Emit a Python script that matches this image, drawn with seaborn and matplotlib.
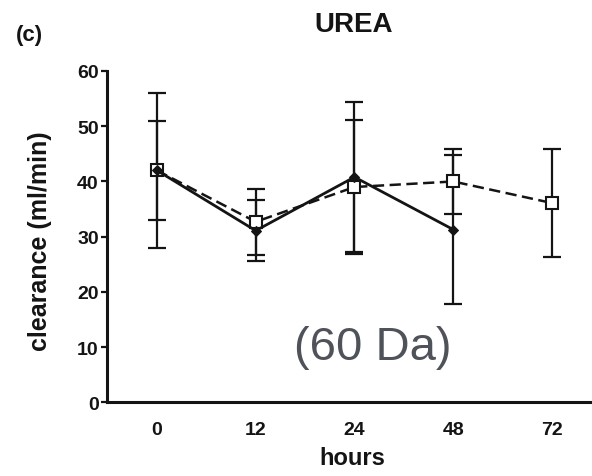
import matplotlib
matplotlib.use("Agg")
import matplotlib.pyplot as plt
import seaborn as sns
import pandas as pd

# Urea clearance over time (mean and SD) for two treatment groups
hour_labels = ["0", "12", "24", "48", "72"]

solid_mean = [42.0, 31.1, 40.8, 31.3]
solid_sd = [14.0, 5.5, 13.5, 13.5]

dashed_mean = [42.0, 32.7, 39.0, 40.0, 36.1]
dashed_sd = [9.0, 6.0, 12.2, 5.8, 9.8]

ink = "#141414"

sns.set_theme(style="ticks")
plt.rcParams["font.family"] = ["Liberation Sans", "DejaVu Sans"]
plt.rcParams["font.weight"] = "bold"

fig = plt.figure(figsize=(5.92, 4.77), dpi=100)
ax = fig.add_axes([0.1807, 0.1541, 0.8193, 0.6950])

solid_df = pd.DataFrame({"pos": range(len(solid_mean)), "clearance": solid_mean})
dashed_df = pd.DataFrame({"pos": range(len(dashed_mean)), "clearance": dashed_mean})

# error bars first so the lines and markers sit on top
ax.errorbar(solid_df["pos"], solid_df["clearance"], yerr=solid_sd, fmt="none",
            ecolor=ink, elinewidth=1.6, capsize=6.8, capthick=1.6, zorder=2)
ax.errorbar(dashed_df["pos"], dashed_df["clearance"], yerr=dashed_sd, fmt="none",
            ecolor=ink, elinewidth=1.6, capsize=6.8, capthick=1.6, zorder=2)

sns.lineplot(data=dashed_df, x="pos", y="clearance", ax=ax, color=ink,
             linewidth=1.8, marker="s", markersize=8, markerfacecolor="white",
             markeredgecolor=ink, markeredgewidth=1.5, zorder=3)
ax.lines[-1].set_dashes((4.5, 2.2))

sns.lineplot(data=solid_df, x="pos", y="clearance", ax=ax, color=ink,
             linewidth=2.0, marker="D", markersize=5.5, markerfacecolor=ink,
             markeredgecolor=ink, zorder=4)

ax.set_xlim(-0.506, 4.405)
ax.set_ylim(0, 60)
ax.set_xticks(range(len(hour_labels)))
ax.set_xticklabels(hour_labels)
ax.set_yticks([0, 10, 20, 30, 40, 50, 60])

for side in ("top", "right"):
    ax.spines[side].set_visible(False)
for side in ("left", "bottom"):
    ax.spines[side].set_linewidth(2.2)
    ax.spines[side].set_color(ink)

ax.tick_params(axis="y", length=4.5, width=1.6, color=ink, pad=1.5,
               labelsize=14, labelcolor=ink)
ax.tick_params(axis="x", length=0, pad=13, labelsize=14, labelcolor=ink)
for lab in ax.get_xticklabels() + ax.get_yticklabels():
    lab.set_fontweight("bold")

ax.set_xlabel("hours", fontsize=17, fontweight="bold", color=ink, va="center")
ax.xaxis.set_label_coords(0.505, -0.166)
ax.set_ylabel("clearance (ml/min)", fontsize=18, fontweight="bold", color=ink,
              va="center")
ax.yaxis.set_label_coords(-0.138, 0.49)

fig.text(0.598, 1 - 25 / 477, "UREA", ha="center", va="center",
         fontsize=20, fontweight="bold", color=ink)
fig.text(16 / 592, 1 - 36 / 477, "(c)", ha="left", va="center",
         fontsize=16, fontweight="bold", color=ink)

fig.text(372.5 / 592, 1 - 348 / 477, "(60 Da)", ha="center", va="center",
         fontsize=34, fontweight="normal", color="#4f5359",
         family=["Liberation Sans", "DejaVu Sans"])

fig.savefig("out.png", dpi=100, facecolor="white")
